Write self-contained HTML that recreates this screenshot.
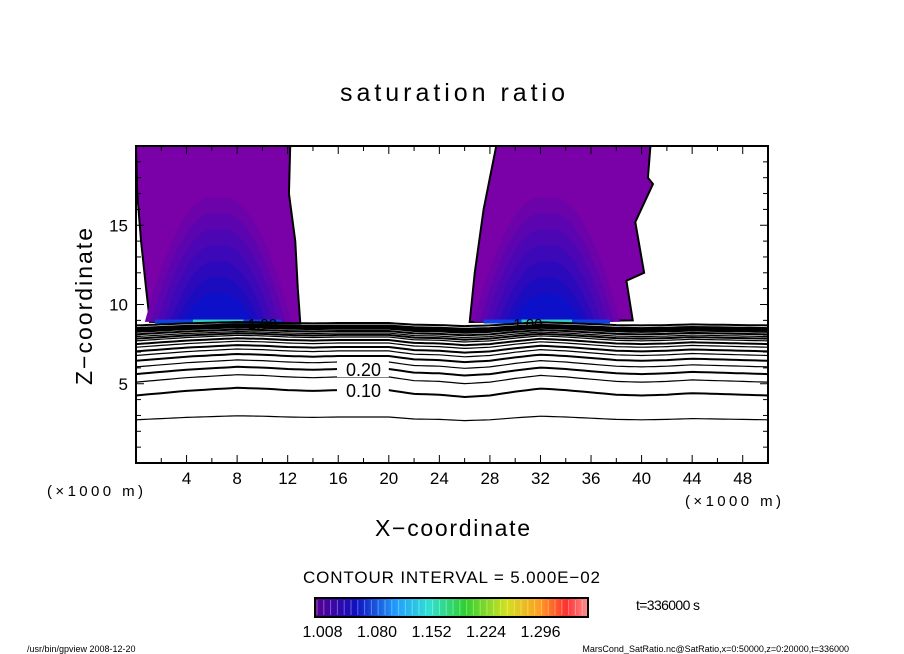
<!DOCTYPE html>
<html><head><meta charset="utf-8"><style>
body{margin:0;background:#fff;width:904px;height:654px;overflow:hidden}
svg{display:block}
text{font-family:"Liberation Sans",sans-serif;fill:#000}
</style></head><body>
<svg id="chart" width="904" height="654" viewBox="0 0 904 654">
<defs>
<linearGradient id="cb" x1="0" x2="1" y1="0" y2="0">
<stop offset="0" stop-color="#5a0090"/><stop offset="0.15" stop-color="#1010c0"/><stop offset="0.3" stop-color="#20a0ff"/><stop offset="0.42" stop-color="#30e0d0"/><stop offset="0.55" stop-color="#30d030"/><stop offset="0.7" stop-color="#d0e020"/><stop offset="0.82" stop-color="#ffa020"/><stop offset="0.92" stop-color="#ff3030"/><stop offset="1" stop-color="#ff9090"/>
</linearGradient>
<clipPath id="plotclip"><rect x="136" y="146" width="632" height="317"/></clipPath>
</defs>
<text x="340" y="101" font-size="25" textLength="225" lengthAdjust="spacing">saturation ratio</text>
<g id="plot" clip-path="url(#plotclip)"></g>
<rect x="136" y="146" width="632" height="317" fill="none" stroke="#000" stroke-width="2"/>
<g id="axes"></g>
<text x="47" y="496" font-size="15" textLength="96" lengthAdjust="spacing">(×1000 m)</text>
<text x="685" y="506" font-size="15" textLength="96" lengthAdjust="spacing">(×1000 m)</text>
<text x="375" y="536" font-size="23" textLength="155" lengthAdjust="spacing">X−coordinate</text>
<text x="92" y="385" font-size="23" textLength="157" lengthAdjust="spacing" transform="rotate(-90 92 385)">Z−coordinate</text>
<text x="303" y="583" font-size="17" textLength="297" lengthAdjust="spacing">CONTOUR INTERVAL = 5.000E−02</text>
<rect x="315" y="598" width="273" height="19" fill="url(#cb)" stroke="#000" stroke-width="2"/>
<g id="cbticks"></g>
<text x="636" y="610" font-size="14" textLength="64" lengthAdjust="spacing">t=336000 s</text>
<text x="27" y="652" font-size="9">/usr/bin/gpview  2008-12-20</text>
<text x="849" y="652" font-size="9" text-anchor="end">MarsCond_SatRatio.nc@SatRatio,x=0:50000,z=0:20000,t=336000</text>
</svg>
<script>
const xTicks=[4,8,12,16,20,24,28,32,36,40,44,48];
const zTicks=[5,10,15];
const contourLevels=[0.05,0.10,0.15,0.20,0.25,0.30,0.35,0.40,0.45,0.50,0.55,0.60,0.65,0.70,0.75,0.80,0.85,0.90,0.95,1.00];
const contourBaseZ=[2.9,4.6,5.43,5.93,6.37,6.75,7.07,7.32,7.57,7.76,7.95,8.08,8.2,8.33,8.45,8.52,8.58,8.64,8.7,8.83];
const profileX=[0,2,4,6,8,10,12,14,16,18,20,22,24,26,28,30,32,34,36,38,40,42,44,46,48,50];
const profileDz=[-0.35,-0.2,-0.05,0.05,0.15,0.1,0,-0.05,0,0,0,-0.25,-0.3,-0.45,-0.35,-0.1,0.1,0,-0.15,-0.3,-0.35,-0.3,-0.2,-0.25,-0.3,-0.35];
const colorbarLabels=["1.008","1.080","1.152","1.224","1.296"];
const cloudLeft=[[0,20],[12.2,20],[12.1,17],[12.6,14],[12.8,11],[13,8.8],[1.1,8.9],[0.8,11],[0.4,14],[0.1,17]];
const cloudRight=[[28.5,20],[40.7,20],[40.5,18],[40.9,17.6],[39.5,15.2],[40.2,12],[38.8,11.5],[39.3,9],[26.4,8.9],[26.8,12],[27.5,16]];

const NS='http://www.w3.org/2000/svg';
const X=v=>136+v*632/50, Z=v=>463-v*317/20;
const plot=document.getElementById('plot'), axes=document.getElementById('axes');
function mk(tag,attrs,parent){const e=document.createElementNS(NS,tag);for(const k in attrs)e.setAttribute(k,attrs[k]);parent.appendChild(e);return e;}
function poly(pts){return pts.map(p=>X(p[0])+','+Z(p[1])).join(' ');}
[[cloudLeft,6.5,'cloud-left'],[cloudRight,32.5,'cloud-right']].forEach(([pts,cx,nm])=>{
  const g=mk('g',{},plot);
  
  
  mk('polygon',{points:poly(pts),fill:'#7a00a8',stroke:'#000','stroke-width':2},g);
  const cols=['#6c02aa','#5c04b0','#4c06b4','#3c08b8','#2c0abc','#1c0cc0','#0c10c8'];
  cols.forEach((c,i)=>{const h=7.8-i*1.0,w=5.8-i*0.5;
    mk('path',{d:`M${X(cx-w)},${Z(8.9)} Q${X(cx-w*0.5)},${Z(8.9+h*1.1)} ${X(cx)},${Z(8.9+h)} Q${X(cx+w*0.5)},${Z(8.9+h*1.1)} ${X(cx+w)},${Z(8.9)} Z`,fill:c},g);});
  mk('rect',{x:X(cx-5),y:Z(9.05),width:X(cx+5)-X(cx-5),height:4,fill:'#1040e0'},g);
  mk('rect',{x:X(cx-2),y:Z(9.05),width:X(cx+2)-X(cx-2),height:3,fill:'#30d0c0'},g);
});
function dzAt(x){for(let i=0;i<profileX.length-1;i++){if(x<=profileX[i+1]){const t=(x-profileX[i])/(profileX[i+1]-profileX[i]);return profileDz[i]+t*(profileDz[i+1]-profileDz[i]);}}return profileDz[profileDz.length-1];}
contourLevels.forEach((lv,i)=>{
  const f=(i===0?0.5:1-i*0.03);let d='';
  for(let x=0;x<=50;x+=0.5){const z=contourBaseZ[i]+dzAt(x)*f;d+=(x?'L':'M')+X(x).toFixed(1)+','+Z(z).toFixed(1);}
  const p=mk('path',{d:d,fill:'none',stroke:'#000','stroke-width':(i%2?2:1.2)},plot);
  
  
});
[[0.10,1],[0.20,3]].forEach(([lv,idx])=>{
  const z=contourBaseZ[idx]+dzAt(18);
  mk('rect',{x:X(15.9),y:Z(z)-8,width:X(20)-X(15.9),height:16,fill:'#fff'},plot);
  const t=mk('text',{x:X(18),y:Z(z)+7,'font-size':18,'text-anchor':'middle'},plot);t.textContent=lv.toFixed(2);
  
  
});
[[10,'1.00'],[31,'1.00']].forEach(([x,s])=>{const t=mk('text',{x:X(x),y:Z(8.83)+6,'font-size':15,'text-anchor':'middle'},plot);t.textContent=s;
  
  });
for(let v=2;v<50;v+=2){const big=v%4===0;
  mk('line',{x1:X(v),x2:X(v),y1:463,y2:463-(big?8:5),stroke:'#000'},axes);
  mk('line',{x1:X(v),x2:X(v),y1:146,y2:146+(big?8:5),stroke:'#000'},axes);}
for(let v=1;v<20;v++){const big=v%5===0;
  mk('line',{x1:136,x2:136+(big?8:5),y1:Z(v),y2:Z(v),stroke:'#000'},axes);
  mk('line',{x1:768,x2:768-(big?8:5),y1:Z(v),y2:Z(v),stroke:'#000'},axes);}
xTicks.forEach(v=>{const t=mk('text',{x:X(v),y:484,'font-size':17,'text-anchor':'middle'},axes);t.textContent=v;
  
  });
zTicks.forEach(v=>{const t=mk('text',{x:128,y:Z(v)+6,'font-size':17,'text-anchor':'end'},axes);t.textContent=v;
  
  });
const cbt=document.getElementById('cbticks');
for(let i=0;i<40;i++)mk('line',{x1:317+i*6.8,x2:317+i*6.8,y1:600,y2:615,stroke:'#fff','stroke-opacity':0.35,'stroke-width':1},cbt);
colorbarLabels.forEach((s,i)=>{const t=mk('text',{x:322.5+i*54.5,y:637,'font-size':16,'text-anchor':'middle'},cbt);t.textContent=s;
  
  });
</script>
</body></html>
